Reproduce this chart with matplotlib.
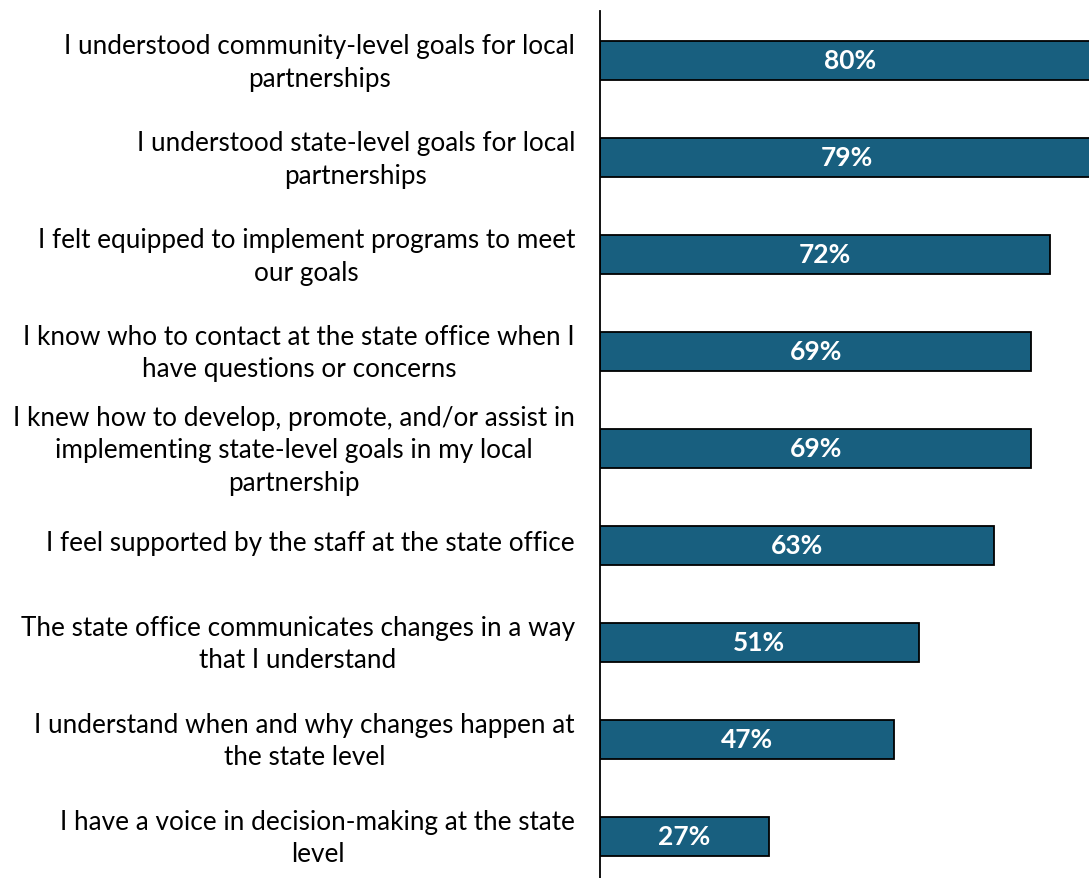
import matplotlib
matplotlib.use("Agg")
import matplotlib.pyplot as plt
import matplotlib.transforms as mtransforms

# ── data ─────────────────────────────────────────────────────────────────────
labels = [
    "I understood community-level goals for local\npartnerships",
    "I understood state-level goals for local\npartnerships",
    "I felt equipped to implement programs to meet\nour goals",
    "I know who to contact at the state office when I\nhave questions or concerns",
    "I knew how to develop, promote, and/or assist in\nimplementing state-level goals in my local\npartnership",
    "I feel supported by the staff at the state office",
    "The state office communicates changes in a way\nthat I understand",
    "I understand when and why changes happen at\nthe state level",
    "I have a voice in decision-making at the state\nlevel",
]
values = [80, 79, 72, 69, 69, 63, 51, 47, 27]

BAR_COLOR = "#185F7F"

plt.rcParams["font.family"] = ["Lato", "DejaVu Sans"]

fig = plt.figure(figsize=(10.89, 8.79), dpi=100)
fig.patch.set_facecolor("white")
ax = fig.add_axes([600 / 1089, 0, 489 / 1089, 1 - 12 / 879])

pos = list(range(len(values)))
ax.barh(pos, values, height=0.4, color=BAR_COLOR, edgecolor="black",
        linewidth=1.3, zorder=2)

for p, v in zip(pos, values):
    ax.text(v / 2, p, f"{v}%", ha="center", va="center", color="white",
            fontsize=19, fontweight="bold", zorder=3)

ax.set_yticks(pos)
ax.set_yticklabels(labels, fontsize=18.85, multialignment="center",
                   linespacing=1.38)
ax.tick_params(axis="y", length=0, pad=18)
# nudge the category labels up a little
shift = mtransforms.ScaledTranslation(0, 5 / 100, fig.dpi_scale_trans)
for lab in ax.get_yticklabels():
    lab.set_transform(lab.get_transform() + shift)
ax.set_xticks([])
ax.set_xlim(0, 78.2)
ax.set_ylim(8.43, -0.51)

for s in ["top", "right", "bottom"]:
    ax.spines[s].set_visible(False)
ax.spines["left"].set_linewidth(1.3)
ax.spines["left"].set_color("black")

plt.savefig("out.png", dpi=100, facecolor="white")
